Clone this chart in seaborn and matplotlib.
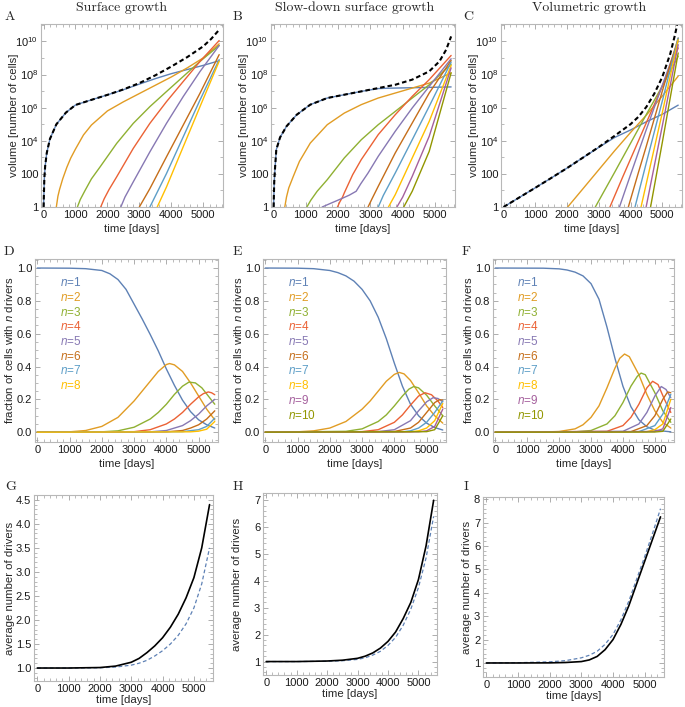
import numpy as np
import pandas as pd
import seaborn as sns
import matplotlib.pyplot as plt
from matplotlib.ticker import FixedLocator, MultipleLocator, FormatStrFormatter, NullFormatter

# Mathematica default colours for n = 1..10 drivers
colors = ["#5E81B5", "#E19C24", "#8FB032", "#EB6235", "#8778B3",
          "#C56E1A", "#5D9EC7", "#FFBF00", "#A5609D", "#929600"]

# ---- row 1: log10 of volume (number of cells), per driver count ----
A_black_t = [0, 25, 50, 100, 200, 400, 700, 1000, 1500, 2000, 2500, 3000, 3500, 4000, 4500, 5000, 5250, 5500]
A_black = [0, 1.74, 2.46, 3.26, 4.11, 4.99, 5.70, 6.16, 6.47, 6.77, 7.1, 7.48, 7.95, 8.48, 9.05, 9.7, 10.15, 10.7]
A_curves = {
    1: ([0, 25, 50, 100, 200, 400, 700, 1000, 1500, 2000, 2500, 3000, 3500, 4000, 4500, 5000, 5500],
        [0, 1.74, 2.46, 3.26, 4.11, 4.99, 5.70, 6.16, 6.47, 6.77, 7.08, 7.42, 7.75, 8.05, 8.3, 8.55, 8.83]),
    2: ([400, 450, 500, 600, 730, 850, 1000, 1250, 1500, 2000, 2500, 3000, 3500, 4000, 4500, 5000, 5500],
        [0, 0.65, 1.05, 1.7, 2.4, 2.95, 3.5, 4.35, 4.95, 5.8, 6.35, 6.85, 7.35, 7.85, 8.4, 9.0, 9.85]),
    3: ([1060, 1150, 1300, 1500, 1770, 2290, 2810, 3330, 3850, 4375, 4900, 5500],
        [0, 0.45, 1.0, 1.7, 2.42, 3.84, 5.05, 6.06, 6.97, 7.88, 8.79, 9.75]),
    4: ([1790, 1900, 2050, 2290, 2810, 3330, 3850, 4375, 4900, 5500],
        [0, 0.5, 1.05, 1.82, 3.54, 5.05, 6.36, 7.58, 8.79, 10.05]),
    5: ([2420, 2550, 2810, 3330, 3850, 4375, 4900, 5500],
        [0, 0.6, 1.52, 3.33, 5.05, 6.67, 8.18, 9.75]),
    6: ([3000, 3330, 3850, 4375, 4900, 5500],
        [0, 1.11, 3.03, 4.95, 6.87, 9.2]),
    7: ([3330, 3850, 4375, 4900, 5500],
        [0, 2.02, 4.24, 6.46, 8.9]),
    8: ([3560, 3850, 4375, 4900, 5500],
        [0, 1.21, 3.64, 6.06, 8.8]),
}

B_black_t = [0, 20, 40, 84, 200, 400, 716, 1137, 1663, 2190, 2716, 3242, 3768, 4295, 4821, 5137, 5347, 5500]
B_black = [0, 1.5, 2.2, 3.46, 4.2, 4.87, 5.57, 6.18, 6.58, 6.78, 6.98, 7.18, 7.38, 7.69, 8.19, 8.79, 9.5, 10.3]
B_curves = {
    1: ([0, 20, 40, 84, 200, 400, 716, 1137, 1663, 2190, 2716, 3242, 3500, 4000, 4500, 5000, 5500],
        [0, 1.5, 2.2, 3.46, 4.2, 4.87, 5.57, 6.18, 6.58, 6.78, 6.98, 7.15, 7.17, 7.19, 7.21, 7.23, 7.25]),
    2: ([347, 400, 470, 611, 800, 1137, 1663, 2190, 2716, 3242, 3768, 4295, 4821, 5500],
        [0, 0.6, 1.15, 1.85, 2.75, 3.86, 4.97, 5.67, 6.18, 6.58, 6.88, 7.18, 7.48, 8.1]),
    3: ([1032, 1150, 1350, 1663, 2190, 2716, 3242, 3768, 4295, 4821, 5500],
        [0, 0.4, 0.95, 1.65, 2.96, 4.06, 4.97, 5.77, 6.58, 7.38, 8.62]),
    4: ([1979, 2050, 2137, 2190, 2450, 2716, 3242, 3768, 4295, 4821, 5500],
        [0, 0.3, 0.6, 0.85, 1.95, 2.86, 4.37, 5.57, 6.68, 7.69, 9.15]),
    5: ([1505, 1800, 2100, 2350, 2558, 2700, 2926, 3242, 3768, 4295, 4821, 5500],
        [0, 0.25, 0.5, 0.72, 0.95, 1.4, 2.05, 3.06, 4.57, 5.98, 7.28, 8.95]),
    6: ([2926, 3050, 3242, 3768, 4295, 4821, 5500],
        [0, 0.5, 1.25, 3.26, 5.07, 6.88, 8.85]),
    7: ([3242, 3400, 3768, 4295, 4821, 5500],
        [0, 0.7, 2.05, 4.06, 6.08, 8.75]),
    8: ([3558, 3768, 4295, 4821, 5500],
        [0, 0.74, 2.96, 5.17, 8.55]),
    9: ([3821, 4000, 4295, 4821, 5500],
        [0, 0.6, 1.85, 4.27, 8.4]),
    10: ([4032, 4295, 4821, 5500],
         [0, 0.95, 3.36, 8.1]),
}

C_black_t = [0, 500, 1000, 1500, 2000, 2500, 3000, 3500, 4000, 4250, 4500, 4750, 5000, 5250, 5400, 5500]
C_black = [0, 0.58, 1.16, 1.75, 2.35, 2.98, 3.62, 4.3, 5.0, 5.45, 6.05, 6.85, 7.85, 9.25, 10.4, 11.3]
C_curves = {
    1: ([0, 500, 1000, 1500, 2000, 2500, 3000, 3500, 4000, 4500, 5000, 5500],
        [0, 0.58, 1.16, 1.75, 2.35, 2.98, 3.6, 4.2, 4.65, 5.15, 5.6, 6.15]),
    2: ([2020, 2500, 3000, 3500, 4000, 4500, 5000, 5500],
        [0, 1.1, 2.25, 3.4, 4.5, 5.55, 6.7, 7.9]),
    3: ([2890, 3500, 4000, 4500, 5000, 5500], [0, 2.1, 3.85, 5.6, 7.3, 9.1]),
    4: ([3350, 3750, 4000, 4500, 5000, 5500], [0, 1.8, 2.9, 5.1, 7.3, 9.6]),
    5: ([3650, 4000, 4500, 5000, 5500], [0, 1.95, 4.7, 7.35, 10.0]),
    6: ([3930, 4250, 4500, 5000, 5500], [0, 2.1, 3.7, 7.0, 10.2]),
    7: ([4140, 4500, 5000, 5500], [0, 2.7, 6.4, 10.2]),
    8: ([4330, 4500, 5000, 5500], [0, 1.45, 5.7, 10.1]),
    9: ([4490, 5000, 5500], [0, 4.9, 9.8]),
    10: ([4630, 5000, 5500], [0, 3.9, 9.3]),
}

# ---- row 2: fraction of cells with n drivers ----
D_curves = {
    1: ([0, 1000, 1500, 2000, 2250, 2500, 2750, 3000, 3250, 3500, 3750, 4000, 4250, 4500, 4750, 5000, 5250, 5500],
        [1.0, 0.999, 0.996, 0.985, 0.965, 0.93, 0.87, 0.78, 0.69, 0.595, 0.495, 0.385, 0.285, 0.195, 0.125, 0.075, 0.045, 0.025]),
    2: ([0, 1000, 1500, 2000, 2500, 3000, 3250, 3500, 3750, 4000, 4100, 4250, 4500, 4750, 5000, 5250, 5500],
        [0, 0.002, 0.01, 0.035, 0.09, 0.19, 0.25, 0.31, 0.37, 0.412, 0.418, 0.41, 0.37, 0.3, 0.22, 0.14, 0.075]),
    3: ([0, 2000, 2500, 3000, 3500, 3750, 4000, 4250, 4500, 4700, 4900, 5100, 5300, 5500],
        [0, 0.002, 0.008, 0.03, 0.08, 0.12, 0.17, 0.23, 0.28, 0.305, 0.3, 0.27, 0.22, 0.17]),
    4: ([0, 3000, 3500, 4000, 4250, 4500, 4750, 5000, 5150, 5300, 5400, 5500],
        [0, 0.003, 0.015, 0.05, 0.08, 0.12, 0.17, 0.215, 0.235, 0.245, 0.24, 0.228]),
    5: ([0, 3500, 4000, 4500, 4750, 5000, 5250, 5500],
        [0, 0.002, 0.01, 0.04, 0.07, 0.11, 0.16, 0.2]),
    6: ([0, 4000, 4500, 4750, 5000, 5250, 5500],
        [0, 0.002, 0.01, 0.025, 0.045, 0.08, 0.13]),
    7: ([0, 4500, 5000, 5250, 5500], [0, 0.003, 0.015, 0.035, 0.085]),
    8: ([0, 4750, 5000, 5250, 5500], [0, 0.002, 0.006, 0.018, 0.065]),
}
E_curves = {
    1: ([0, 1000, 1500, 2000, 2250, 2500, 2750, 3000, 3250, 3500, 3750, 4000, 4250, 4500, 4750, 5000, 5250, 5500],
        [1.0, 0.999, 0.996, 0.985, 0.972, 0.952, 0.92, 0.87, 0.8, 0.7, 0.57, 0.42, 0.28, 0.17, 0.1, 0.055, 0.028, 0.013]),
    2: ([0, 1000, 1500, 2000, 2500, 3000, 3250, 3500, 3750, 4000, 4150, 4300, 4500, 4750, 5000, 5250, 5500],
        [0, 0.002, 0.008, 0.025, 0.065, 0.14, 0.19, 0.25, 0.31, 0.352, 0.364, 0.355, 0.315, 0.24, 0.16, 0.1, 0.055]),
    3: ([0, 2500, 3000, 3500, 3750, 4000, 4250, 4450, 4600, 4750, 5000, 5250, 5500],
        [0, 0.005, 0.02, 0.065, 0.105, 0.16, 0.22, 0.262, 0.278, 0.27, 0.225, 0.16, 0.1]),
    4: ([0, 3000, 3500, 4000, 4250, 4500, 4750, 4950, 5150, 5350, 5500],
        [0, 0.003, 0.015, 0.06, 0.105, 0.165, 0.22, 0.24, 0.228, 0.19, 0.15]),
    5: ([0, 3500, 4000, 4500, 4750, 5000, 5200, 5350, 5500],
        [0, 0.003, 0.015, 0.07, 0.13, 0.185, 0.21, 0.205, 0.185]),
    6: ([0, 4000, 4500, 4750, 5000, 5250, 5400, 5500],
        [0, 0.004, 0.025, 0.06, 0.12, 0.18, 0.198, 0.195]),
    7: ([0, 4250, 4500, 4750, 5000, 5250, 5500],
        [0, 0.002, 0.008, 0.025, 0.06, 0.12, 0.19]),
    8: ([0, 4500, 4750, 5000, 5250, 5500], [0, 0.002, 0.008, 0.025, 0.07, 0.175]),
    9: ([0, 4750, 5000, 5250, 5500], [0, 0.002, 0.008, 0.035, 0.14]),
    10: ([0, 5000, 5250, 5500], [0, 0.003, 0.015, 0.1]),
}
F_curves = {
    1: ([0, 1500, 2000, 2250, 2500, 2750, 3000, 3250, 3500, 3750, 4000, 4250, 4500, 4750, 5000, 5500],
        [1.0, 0.999, 0.995, 0.988, 0.975, 0.952, 0.905, 0.81, 0.64, 0.45, 0.28, 0.155, 0.075, 0.033, 0.012, 0.002]),
    2: ([0, 1500, 2000, 2500, 2750, 3000, 3250, 3500, 3750, 3900, 4050, 4200, 4500, 4750, 5000, 5250, 5500],
        [0, 0.001, 0.004, 0.02, 0.045, 0.09, 0.16, 0.27, 0.39, 0.45, 0.476, 0.46, 0.35, 0.23, 0.13, 0.06, 0.025]),
    3: ([0, 2500, 3000, 3500, 3750, 4000, 4250, 4450, 4570, 4700, 5000, 5250, 5500],
        [0, 0.002, 0.01, 0.05, 0.1, 0.18, 0.28, 0.34, 0.36, 0.35, 0.24, 0.13, 0.06]),
    4: ([0, 3500, 4000, 4250, 4500, 4750, 4930, 5100, 5300, 5500],
        [0, 0.005, 0.04, 0.09, 0.17, 0.27, 0.31, 0.29, 0.2, 0.12]),
    5: ([0, 4000, 4500, 4750, 5000, 5200, 5350, 5500],
        [0, 0.005, 0.05, 0.12, 0.22, 0.278, 0.26, 0.21]),
    6: ([0, 4250, 4750, 5000, 5250, 5400, 5500],
        [0, 0.003, 0.04, 0.1, 0.2, 0.245, 0.24]),
    7: ([0, 4500, 5000, 5250, 5500], [0, 0.003, 0.04, 0.11, 0.23]),
    8: ([0, 4750, 5000, 5250, 5500], [0, 0.003, 0.015, 0.05, 0.2]),
    9: ([0, 5000, 5250, 5500], [0, 0.004, 0.02, 0.15]),
    10: ([0, 5000, 5250, 5500], [0, 0.001, 0.005, 0.08]),
}

# ---- row 3: average number of drivers (solid black, dashed blue) ----
G_t = [0, 1000, 2000, 2500, 3000, 3250, 3500, 3750, 4000, 4250, 4500, 4750, 5000, 5250, 5500]
G_solid = [1.0, 1.0, 1.01, 1.04, 1.12, 1.2, 1.32, 1.46, 1.63, 1.85, 2.12, 2.46, 2.88, 3.5, 4.4]
G_dashed = [1.0, 1.0, 1.005, 1.02, 1.06, 1.1, 1.16, 1.25, 1.36, 1.5, 1.68, 1.92, 2.25, 2.75, 3.5]
H_t = [0, 1000, 2000, 2500, 3000, 3250, 3500, 3750, 4000, 4250, 4500, 4750, 5000, 5250, 5500]
H_solid = [1.0, 1.0, 1.02, 1.05, 1.12, 1.2, 1.32, 1.5, 1.75, 2.1, 2.6, 3.2, 4.05, 5.3, 7.0]
H_dashed = [1.0, 1.0, 1.01, 1.03, 1.08, 1.14, 1.24, 1.38, 1.6, 1.9, 2.35, 2.95, 3.75, 4.85, 6.4]
I_t = [0, 1000, 2000, 2500, 3000, 3250, 3500, 3750, 4000, 4250, 4500, 4750, 5000, 5250, 5500]
I_solid = [1.0, 1.0, 1.005, 1.02, 1.06, 1.13, 1.28, 1.57, 2.0, 2.65, 3.45, 4.4, 5.35, 6.3, 7.25]
I_dashed = [1.0, 1.01, 1.05, 1.1, 1.22, 1.33, 1.5, 1.8, 2.22, 2.85, 3.65, 4.6, 5.55, 6.55, 7.6]

titles = ["Surface growth", "Slow-down surface growth", "Volumetric growth"]

sns.set_style("ticks")
plt.rcParams['font.family'] = ['Liberation Sans', 'DejaVu Sans']
plt.rcParams['mathtext.fontset'] = 'custom'
plt.rcParams['mathtext.rm'] = 'Liberation Sans'
plt.rcParams['mathtext.it'] = 'Liberation Sans:italic'

W, H = 685, 707
fig = plt.figure(figsize=(W / 100, H / 100), dpi=100)


def add_ax(x0, x1, y0, y1):
    return fig.add_axes([x0 / W, 1 - y1 / H, (x1 - x0) / W, (y1 - y0) / H])


def style(ax):
    for s in ax.spines.values():
        s.set_color('#b8b8b8')
        s.set_linewidth(0.8)
    ax.tick_params(which='both', direction='in', top=True, right=True,
                   color='#a0a0a0', labelsize=8, labelcolor='#1a1a1a', pad=2)
    ax.tick_params(which='major', length=3.5, width=0.6)
    ax.tick_params(which='minor', length=2, width=0.5)
    ax.xaxis.set_major_locator(MultipleLocator(1000))
    ax.xaxis.set_minor_locator(MultipleLocator(200))


def draw(ax, curves, log=False):
    rows = []
    for n, (t, v) in curves.items():
        for ti, vi in zip(t, v):
            rows.append((n, ti, 10 ** vi if log else vi))
    df = pd.DataFrame(rows, columns=['n', 't', 'v'])
    pal = {n: colors[n - 1] for n in curves}
    sns.lineplot(data=df, x='t', y='v', hue='n', palette=pal, legend=False,
                 estimator=None, sort=False, linewidth=1.0, ax=ax)


LABEL_FS = 8.2

# row 1
top_boxes = [(41, 223, -0.123), (271, 455, -0.12), (501, 682, -0.12)]
top_data = [(A_curves, A_black_t, A_black), (B_curves, B_black_t, B_black), (C_curves, C_black_t, C_black)]
for (x0, x1, lx), (curves, bt, bv) in zip(top_boxes, top_data):
    ax = add_ax(x0, x1, 24, 207)
    draw(ax, curves, log=True)
    sns.lineplot(x=bt, y=[10 ** v for v in bv], color='black', linewidth=1.5,
                 linestyle=(0, (2.2, 1.4)), sort=False, ax=ax)
    ax.set_yscale('log')
    ax.set_xlim(-80, 5620)
    ax.set_ylim(1, 1.12e11)
    style(ax)
    ax.yaxis.set_major_locator(FixedLocator([1, 1e2, 1e4, 1e6, 1e8, 1e10]))
    ax.yaxis.set_minor_locator(FixedLocator([10, 1e3, 1e5, 1e7, 1e9, 1e11]))
    ax.yaxis.set_minor_formatter(NullFormatter())
    ax.set_yticklabels(['1', '100', r'$10^{4}$', r'$10^{6}$', r'$10^{8}$', r'$10^{10}$'])
    ax.set_xlabel('time [days]', fontsize=LABEL_FS, labelpad=3)
    ax.set_ylabel('volume [number of cells]', fontsize=LABEL_FS)
    ax.yaxis.set_label_coords(lx, 0.5)

# row 2
mid_boxes = [(35, 218, -0.108), (263, 446, -0.104), (493, 674, -0.107)]
for (x0, x1, lx), curves in zip(mid_boxes, [D_curves, E_curves, F_curves]):
    ax = add_ax(x0, x1, 259, 442)
    draw(ax, curves)
    ax.set_xlim(-70, 5600)
    ax.set_ylim(-0.06, 1.055)
    style(ax)
    ax.yaxis.set_major_locator(MultipleLocator(0.2))
    ax.yaxis.set_minor_locator(MultipleLocator(0.05))
    ax.yaxis.set_major_formatter(FormatStrFormatter('%.1f'))
    ax.set_xlabel('time [days]', fontsize=LABEL_FS, labelpad=3)
    ax.set_ylabel('fraction of cells with $n$ drivers', fontsize=LABEL_FS)
    ax.yaxis.set_label_coords(lx, 0.5)
    for k in curves:
        ax.text(690, 0.91 - 0.0895 * (k - 1), f'$n$={k}', color=colors[k - 1],
                fontsize=8.5, ha='left', va='center')

# row 3
bot = [((34, 213, 495, 681), -0.104, G_t, G_solid, G_dashed, (0.73, 4.6), 0.5, 0.1, '%.1f'),
       ((263, 437, 493, 675), -0.119, H_t, H_solid, H_dashed, (0.5, 7.27), 1, 0.2, '%d'),
       ((483, 664, 497, 677), -0.061, I_t, I_solid, I_dashed, (0.4, 8.1), 1, 0.2, '%d')]
for (x0, x1, y0, y1), lx, t, solid, dashed, ylim, maj, mnr, fmt in bot:
    ax = add_ax(x0, x1, y0, y1)
    sns.lineplot(x=t, y=dashed, color=colors[0], linewidth=0.9,
                 linestyle=(0, (3, 2)), sort=False, ax=ax)
    sns.lineplot(x=t, y=solid, color='black', linewidth=1.2, sort=False, ax=ax)
    ax.set_xlim(-105, 5610)
    ax.set_ylim(*ylim)
    style(ax)
    ax.yaxis.set_major_locator(MultipleLocator(maj))
    ax.yaxis.set_minor_locator(MultipleLocator(mnr))
    ax.yaxis.set_major_formatter(FormatStrFormatter(fmt))
    ax.set_xlabel('time [days]', fontsize=LABEL_FS, labelpad=1)
    ax.set_ylabel('average number of drivers', fontsize=LABEL_FS)
    ax.yaxis.set_label_coords(lx, 0.5)

# titles and panel letters
serif = 'cmr10'
for x, title in zip([122, 355, 589], titles):
    fig.text(x / W, 1 - 8 / H, title, family=serif, fontsize=10, ha='center', va='center')
letters = [('A', 5, 17), ('B', 233, 17), ('C', 463, 17),
           ('D', 4, 252), ('E', 233, 252), ('F', 462, 252),
           ('G', 5, 487), ('H', 233, 487), ('I', 464, 487)]
for s, x, y in letters:
    fig.text(x / W, 1 - y / H, s, family=serif, fontsize=10, ha='left', va='center')

fig.savefig('out.png', dpi=100)
